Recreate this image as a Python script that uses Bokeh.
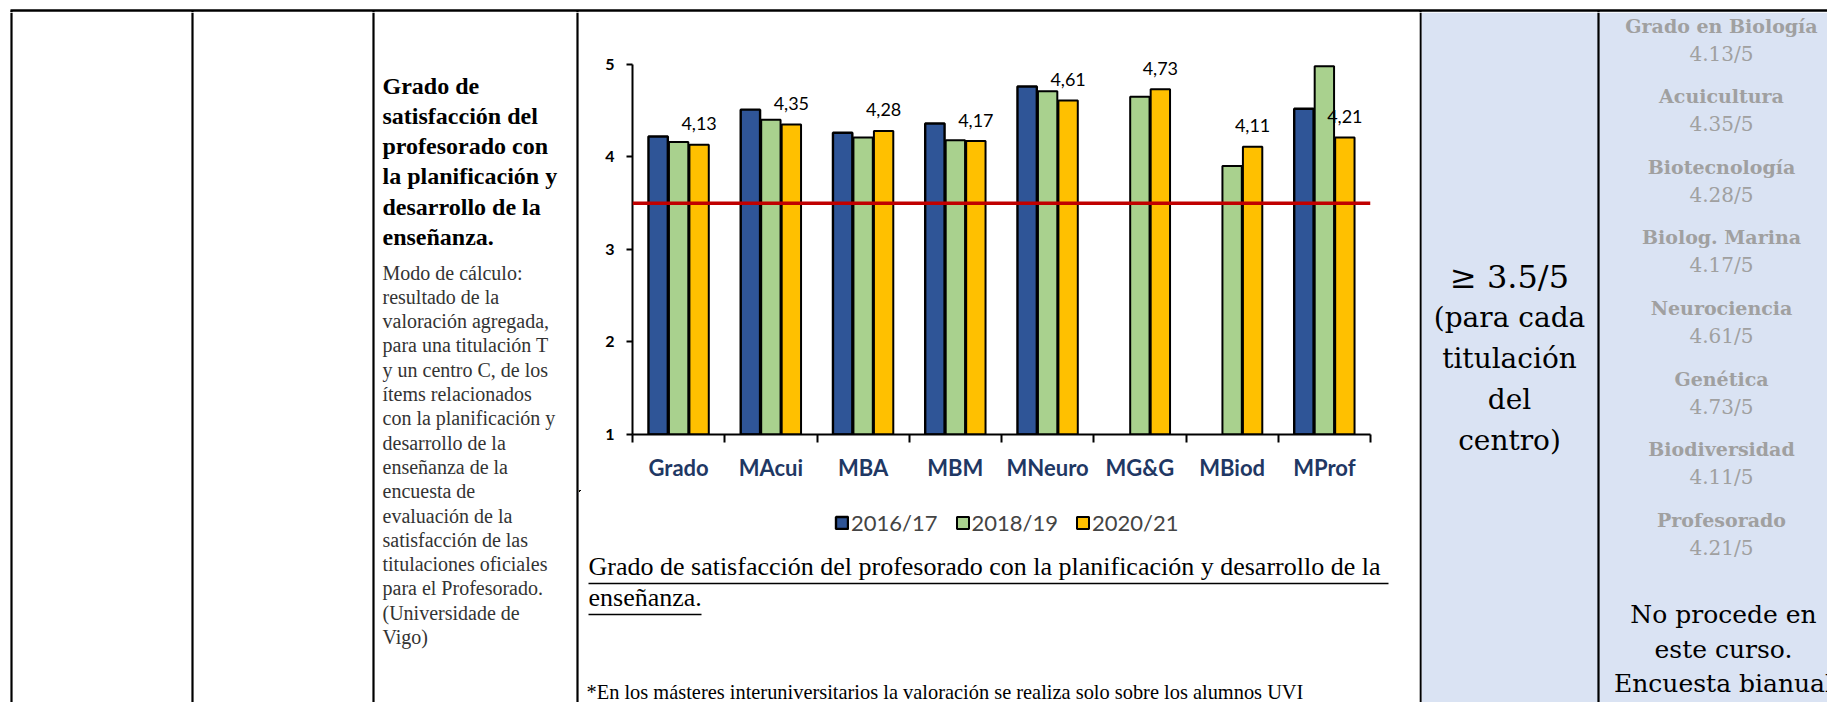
from bokeh.plotting import figure
from bokeh.layouts import row, column
from bokeh.models import (ColumnDataSource, Range1d, LinearAxis, FixedTicker, Span, LabelSet,
                          Legend, LegendItem)
from bokeh.transform import dodge
from bokeh.core.properties import value
from bokeh.embed import file_html
from bokeh.resources import INLINE

# ---------------- data ----------------
categories = ["Grado", "MAcui", "MBA", "MBM", "MNeuro", "MG&G", "MBiod", "MProf"]
series_names = ["2016/17", "2018/19", "2020/21"]
vals_2016 = [4.22, 4.51, 4.26, 4.36, 4.76, float("nan"), float("nan"), 4.52]
vals_2018 = [4.16, 4.40, 4.21, 4.18, 4.71, 4.65, 3.90, 4.98]
vals_2020 = [4.13, 4.35, 4.28, 4.17, 4.61, 4.73, 4.11, 4.21]
target = 3.5
y_ticks = [1, 2, 3, 4, 5]
degree_names = ["Grado en Biología", "Acuicultura", "Biotecnología", "Biolog. Marina",
                "Neurociencia", "Genética", "Biodiversidad", "Profesorado"]

title_lines = ["Grado de", "satisfacción del", "profesorado con", "la planificación y",
               "desarrollo de la", "enseñanza."]
body_lines = ["Modo de cálculo:", "resultado de la", "valoración agregada,",
              "para una titulación T", "y un centro C, de los", "ítems relacionados",
              "con la planificación y", "desarrollo de la", "enseñanza de la",
              "encuesta de", "evaluación de la", "satisfacción de las",
              "titulaciones oficiales", "para el Profesorado.", " (Universidade de", "Vigo)"]
target_lines = ["≥ 3.5/5", "(para cada", "titulación", "del", "centro)"]
note_lines = ["No procede en", "este curso.", "Encuesta bianual"]
subtitle_lines = ["Grado de satisfacción del profesorado con la planificación y desarrollo de la",
                  "enseñanza."]
footnote = "*En los másteres interuniversitarios la valoración se realiza solo sobre los alumnos UVI"

BLUE, GREEN, YELLOW = "#2F5597", "#A9D18E", "#FFC000"
RED = "#C00000"
NAVY = "#1F3864"
CELL_BLUE = "#DAE3F3"
GRAY = "#A0A0A0"
SERIF = value("Liberation Serif")
WIDE_SERIF = value("DejaVu Serif")

W, H = 1827, 702
X_LEFT_END, X_RIGHT_START = 579, 1419
Y_TOP = 12
Y_SPLIT = 490


def pixel_fig(x0, x1, y0, y1):
    p = figure(width=int(x1 - x0), height=int(y1 - y0),
               x_range=Range1d(x0, x1), y_range=Range1d(y1, y0),
               x_axis_location=None, y_axis_location=None,
               toolbar_location=None, output_backend="svg", min_border=0)
    p.outline_line_color = None
    p.grid.grid_line_color = None
    p.background_fill_color = "white"
    p.border_fill_color = "white"
    return p


def vline(p, x, y0, y1, w=2.2):
    p.segment(x0=[x], y0=[y0], x1=[x], y1=[y1], line_color="black", line_width=w)


# ---------------- top strip ----------------
strip = pixel_fig(0, W, 0, Y_TOP)
strip.quad(left=[1421], right=[W], top=[11], bottom=[Y_TOP], fill_color=CELL_BLUE, line_color=None)
strip.segment(x0=[10], y0=[10], x1=[W], y1=[10], line_color="black", line_width=2.5)
for xv in [11, 192, 373, 577, 1420, 1598]:
    vline(strip, xv, 10, Y_TOP)

# ---------------- left part ----------------
left = pixel_fig(0, X_LEFT_END, Y_TOP, H)
for xv in [11, 192, 373, 577]:
    vline(left, xv, Y_TOP, H)
left.text(x=[382] * len(title_lines), y=[85 + 30.3 * i for i in range(len(title_lines))],
          text=title_lines, text_font=SERIF, text_font_style="bold", text_font_size="24px",
          text_baseline="middle", text_align="left", text_color="black")
left.text(x=[382] * len(body_lines), y=[272 + 24.3 * i for i in range(len(body_lines))],
          text=body_lines, text_font=SERIF, text_font_size="20px",
          text_baseline="middle", text_align="left", text_color="#333333")

# ---------------- chart ----------------
n = len(categories)
centers = [i + 0.5 for i in range(n)]
src = ColumnDataSource(dict(
    xc=centers, y2016=vals_2016, y2018=vals_2018, y2020=vals_2020,
    lbl=[f"{v:.2f}".replace(".", ",") for v in vals_2020]))

chart = figure(x_range=Range1d(0, n), y_range=Range1d(1, 5.16),
               width=X_RIGHT_START - X_LEFT_END, height=Y_SPLIT - Y_TOP,
               toolbar_location=None, output_backend="svg",
               x_axis_location=None, y_axis_location=None, title=None,
               min_border_left=53, min_border_right=49, min_border_top=37,
               min_border_bottom=56)
chart.outline_line_color = None
chart.grid.grid_line_color = None

bw = 0.21
off = 0.222
bar_styles = [dict(fill_color=BLUE, line_color="black", line_width=2.4),
              dict(fill_color=GREEN, line_color="black", line_width=2),
              dict(fill_color=YELLOW, line_color="black", line_width=2)]
cols = ["y2016", "y2018", "y2020"]
offsets = [-off, 0.0, off]
for col, o, st in zip(cols, offsets, bar_styles):
    chart.vbar(x=dodge("xc", o), top=col, bottom=1, width=bw, source=src, **st)

chart.add_layout(Span(location=target, dimension="width", line_color=RED, line_width=3.5))

labels = LabelSet(x=dodge("xc", off), y="y2020", text="lbl", source=src,
                  text_align="center", text_baseline="middle", y_offset=21,
                  text_font=value("Lato"), text_font_size="18px", text_color="black")
chart.add_layout(labels)

yax = LinearAxis(ticker=FixedTicker(ticks=y_ticks), bounds=(1, 5))
yax.axis_line_width = 2
yax.major_tick_line_width = 2
yax.major_tick_in = 0
yax.major_tick_out = 6
yax.minor_tick_line_color = None
yax.major_label_standoff = 12
yax.major_label_text_font = "Lato"
yax.major_label_text_font_style = "bold"
yax.major_label_text_font_size = "16px"
yax.major_label_text_color = "black"
chart.add_layout(yax, "left")

cax = LinearAxis(ticker=FixedTicker(ticks=centers, minor_ticks=list(range(n + 1))),
                 major_label_overrides={c: name for c, name in zip(centers, categories)})
cax.axis_line_width = 2
cax.major_tick_line_color = None
cax.major_tick_in = 0
cax.major_tick_out = 8
cax.minor_tick_line_color = "black"
cax.minor_tick_line_width = 2
cax.minor_tick_in = 0
cax.minor_tick_out = 8
cax.major_label_standoff = 11
cax.major_label_text_font = "Lato"
cax.major_label_text_font_style = "bold"
cax.major_label_text_font_size = "22px"
cax.major_label_text_color = NAVY
chart.add_layout(cax, "below")

# ---------------- legend + text under chart ----------------
under = pixel_fig(X_LEFT_END, X_RIGHT_START, Y_SPLIT, H)
# series renderers for the legend (their data lie outside this panel's view)
leg_renderers = [under.vbar(x="xc", top=col, bottom=1, width=bw, source=src, **st)
                 for col, st in zip(cols, bar_styles)]
legend = Legend(items=[LegendItem(label=s, renderers=[r]) for s, r in zip(series_names, leg_renderers)],
                orientation="horizontal", location=(255, 166),
                label_text_font="Lato", label_text_font_size="22px",
                glyph_width=15, glyph_height=15, label_standoff=2, spacing=17,
                border_line_color=None, background_fill_alpha=0, margin=0, padding=8)
under.add_layout(legend)

under.text(x=[588, 588], y=[566, 597], text=subtitle_lines, text_font=SERIF,
           text_font_size="26px", text_baseline="middle", text_align="left", text_color="black")
under.segment(x0=[588, 588], y0=[583, 614], x1=[1388, 701], y1=[583, 614],
              line_color="black", line_width=1.6)
under.text(x=[586], y=[691], text=[footnote], text_font=SERIF, text_font_size="20.4px",
           text_baseline="middle", text_align="left", text_color="black")

# ---------------- right part ----------------
right = pixel_fig(X_RIGHT_START, W, Y_TOP, H)
right.quad(left=[1421], right=[W], top=[Y_TOP], bottom=[H], fill_color=CELL_BLUE, line_color=None)
vline(right, 1420, Y_TOP, H)
vline(right, 1598, Y_TOP, H)
right.text(x=[1509], y=[276], text=[target_lines[0]], text_font=WIDE_SERIF, text_font_size="32px",
           text_baseline="middle", text_align="center", text_color="black")
right.text(x=[1509] * 4, y=[317 + 41 * i for i in range(4)], text=target_lines[1:],
           text_font=WIDE_SERIF, text_font_size="28px",
           text_baseline="middle", text_align="center", text_color="black")
right.text(x=[1721] * len(degree_names), y=[25 + 70.6 * i for i in range(len(degree_names))],
           text=degree_names, text_font=WIDE_SERIF, text_font_style="bold", text_font_size="19px",
           text_baseline="middle", text_align="center", text_color=GRAY)
right.text(x=[1721] * len(vals_2020), y=[53 + 70.6 * i for i in range(len(vals_2020))],
           text=[f"{v:.2f}/5" for v in vals_2020], text_font=WIDE_SERIF, text_font_size="20px",
           text_baseline="middle", text_align="center", text_color=GRAY)
right.text(x=[1723] * 3, y=[614, 649, 683], text=note_lines, text_font=WIDE_SERIF,
           text_font_size="25px", text_baseline="middle", text_align="center", text_color="black")

middle = column(chart, row(under, spacing=0), spacing=0)
layout = column(strip, row(left, middle, right, spacing=0), spacing=0)

open("out.html", "w").write(file_html(layout, INLINE))
